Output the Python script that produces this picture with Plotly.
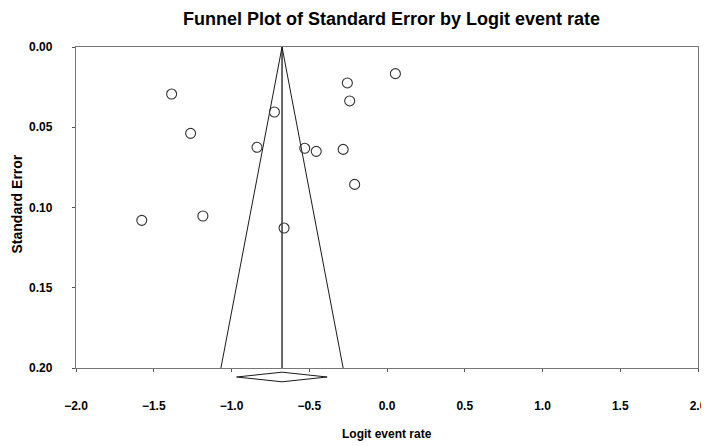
import plotly.graph_objects as go

# Study data (logit event rate, standard error)
logit_rate = [-1.385, -1.263, -0.836, -0.724, -1.577, -1.184, 0.054, -0.255,
              -0.240, -0.529, -0.455, -0.282, -0.208, -0.662]
std_error = [0.0293, 0.0538, 0.0625, 0.0405, 0.108, 0.1053, 0.0166, 0.0224,
             0.0336, 0.0631, 0.0650, 0.0638, 0.0856, 0.1128]

# Pooled estimate and its confidence interval
pooled = -0.675
pooled_low = -0.967
pooled_high = -0.385

# Funnel (pseudo 95% limits) at SE = 0.20
funnel_se_max = 0.20
funnel_left = -1.068
funnel_right = -0.282

x_ticks = [-2.0, -1.5, -1.0, -0.5, 0.0, 0.5, 1.0, 1.5, 2.0]
y_ticks = [0.00, 0.05, 0.10, 0.15, 0.20]

FONT = "Liberation Sans, Arial, sans-serif"
INK = "#1a1a1a"

fig = go.Figure()

# Funnel lines
fig.add_trace(go.Scatter(
    x=[funnel_left, pooled, funnel_right], y=[funnel_se_max, 0, funnel_se_max],
    mode="lines", line=dict(color=INK, width=1), hoverinfo="skip", showlegend=False))

# Vertical line at pooled estimate
fig.add_trace(go.Scatter(
    x=[pooled, pooled], y=[0, funnel_se_max], mode="lines",
    line=dict(color=INK, width=1.3), hoverinfo="skip", showlegend=False))

# Study points
fig.add_trace(go.Scatter(
    x=logit_rate, y=std_error, mode="markers",
    marker=dict(symbol="circle-open", size=10, color="#333333", line=dict(width=1.1)),
    showlegend=False))

# Diamond under the axis (pooled estimate), x in data units, y in paper units
plot_h = 446 - 39 - 86
d_c = -9.0 / plot_h
d_h = 4.8 / plot_h
fig.add_shape(
    type="path", xref="x", yref="paper",
    path=(f"M {pooled_low},{d_c} L {pooled},{d_c + d_h} L {pooled_high},{d_c} "
          f"L {pooled},{d_c - d_h} Z"),
    line=dict(color=INK, width=1), fillcolor="white", layer="above")

fig.update_layout(
    width=709, height=446,
    margin=dict(l=68, r=10, t=39, b=86),
    paper_bgcolor="white", plot_bgcolor="white",
    font=dict(family=FONT, color="#000000"),
    title=dict(text="<b>Funnel Plot of Standard Error by Logit event rate</b>",
               x=(68 + 699) / 2 / 709, xanchor="center",
               y=1 - 11 / 446, yanchor="middle", yref="container",
               font=dict(family=FONT, size=18, color="#000000")),
    xaxis=dict(range=[-2, 2], tickvals=x_ticks, tickformat=".1f",
               showgrid=False, zeroline=False, showline=True, mirror=True,
               linecolor="#777777", linewidth=1.3, ticks="outside", ticklen=3,
               tickcolor="#555555", ticklabelstandoff=23,
               tickfont=dict(family=FONT, size=12, color="#000000", weight="bold")),
    yaxis=dict(range=[0.2, 0], tickvals=y_ticks, tickformat=".2f",
               showgrid=False, zeroline=False, showline=True, mirror=True,
               linecolor="#777777", linewidth=1.3, ticks="outside", ticklen=3,
               tickcolor="#555555", ticklabelstandoff=17,
               tickfont=dict(family=FONT, size=12, color="#000000", weight="bold")),
    annotations=[
        dict(text="<b>Logit event rate</b>", xref="paper", yref="paper",
             x=0.5, y=0, yshift=-66, xanchor="center", yanchor="middle",
             showarrow=False, font=dict(family=FONT, size=12, color="#000000")),
        dict(text="<b>Standard Error</b>", xref="paper", yref="paper",
             x=0, y=0.5, xshift=-60, yshift=3, textangle=-90, xanchor="center",
             yanchor="middle", showarrow=False,
             font=dict(family=FONT, size=14, color="#000000")),
    ],
)

fig.write_html("out.html")
